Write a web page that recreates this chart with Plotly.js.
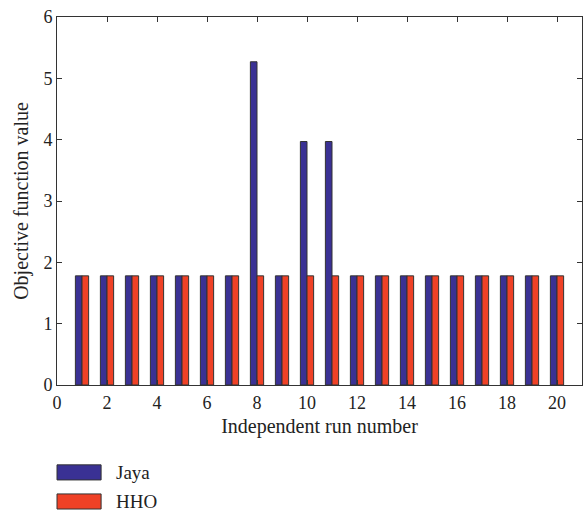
<!DOCTYPE html>
<html>
<head>
<meta charset="utf-8">
<script src="https://cdn.plot.ly/plotly-3.0.1.min.js"></script>
<style>html,body{margin:0;padding:0;background:#fff;}#chart{width:586px;height:512px;}</style>
</head>
<body>
<div id="chart"></div>
<script>
const runs = [1,2,3,4,5,6,7,8,9,10,11,12,13,14,15,16,17,18,19,20];
const jaya = [1.78,1.78,1.78,1.78,1.78,1.78,1.78,5.27,1.78,3.97,3.97,1.78,1.78,1.78,1.78,1.78,1.78,1.78,1.78,1.78];
const hho  = [1.78,1.78,1.78,1.78,1.78,1.78,1.78,1.78,1.78,1.78,1.78,1.78,1.78,1.78,1.78,1.78,1.78,1.78,1.78,1.78];
const seriesNames = ['Jaya','HHO'];
const seriesColors = ['#3a3194','#ef4126'];
const xTicks = [0,2,4,6,8,10,12,14,16,18,20];
const yTicks = [0,1,2,3,4,5,6];

const fam = '"Liberation Serif","DejaVu Serif",serif';
const tickFont = {family:fam, size:18, color:'#222'};
const titleFont = {family:fam, size:20, color:'#222'};
const legFont = {family:fam, size:19, color:'#222'};
const outline = {color:'#333', width:1};

const traces = [
  {type:'bar', x:runs, y:jaya, name:seriesNames[0], marker:{color:seriesColors[0], line:outline}, showlegend:false},
  {type:'bar', x:runs, y:hho, name:seriesNames[1], marker:{color:seriesColors[1], line:outline}, showlegend:false}
];

const axisCommon = {showline:true, linecolor:'#333', linewidth:1, mirror:'ticks', ticks:'inside', ticklen:5, tickcolor:'#333', showgrid:false, zeroline:false, tickfont:tickFont};

const legendY = [[-0.217,-0.258],[-0.296,-0.337]];
const shapes = seriesNames.map((n,i)=>({type:'rect', xref:'paper', yref:'paper', x0:0, x1:0.084, y0:legendY[i][0], y1:legendY[i][1], fillcolor:seriesColors[i], line:{color:'#333', width:1}}));
const annotations = seriesNames.map((n,i)=>({xref:'paper', yref:'paper', x:0.108, y:(legendY[i][0]+legendY[i][1])/2, text:n, showarrow:false, xanchor:'left', yanchor:'middle', font:legFont}));

const layout = {
  width:586, height:512,
  margin:{l:57, r:4, t:17, b:127},
  paper_bgcolor:'#fff', plot_bgcolor:'#fff',
  barmode:'group', bargap:0.47, bargroupgap:0,
  font:tickFont,
  xaxis:Object.assign({}, axisCommon, {range:[0,21], tickvals:xTicks, ticklabelstandoff:1, title:{text:'Independent run number', font:titleFont, standoff:7}}),
  yaxis:Object.assign({}, axisCommon, {range:[0,6], tickvals:yTicks, title:{text:'Objective function value', font:titleFont, standoff:9}}),
  shapes:shapes,
  annotations:annotations,
  showlegend:false
};

Plotly.newPlot('chart', traces, layout, {displayModeBar:false, staticPlot:true});
</script>
</body>
</html>
